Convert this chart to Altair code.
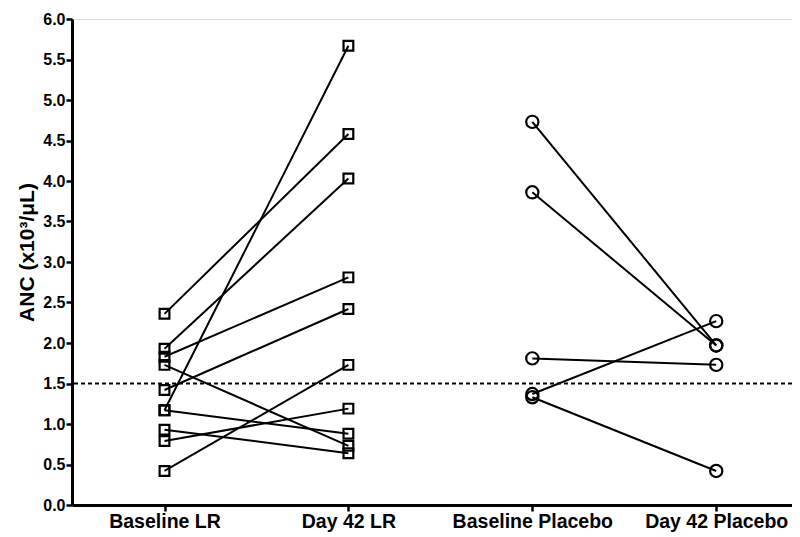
import altair as alt
import pandas as pd

timepoints = ["Baseline LR", "Day 42 LR", "Baseline Placebo", "Day 42 Placebo"]

lr_baseline = [2.36, 1.93, 1.83, 1.73, 1.42, 1.17, 1.17, 0.93, 0.79, 0.42]
lr_day42 = [4.58, 4.03, 2.81, 0.73, 2.42, 5.67, 0.88, 0.64, 1.19, 1.73]

pl_baseline = [4.73, 3.86, 1.81, 1.37, 1.33]
pl_day42 = [1.97, 1.97, 1.73, 2.27, 0.42]

threshold = 1.5

rows = []
for i, (a, b) in enumerate(zip(lr_baseline, lr_day42)):
    rows.append({"subject": f"LR{i}", "group": "LR", "time": timepoints[0], "anc": a})
    rows.append({"subject": f"LR{i}", "group": "LR", "time": timepoints[1], "anc": b})
for i, (a, b) in enumerate(zip(pl_baseline, pl_day42)):
    rows.append({"subject": f"PL{i}", "group": "Placebo", "time": timepoints[2], "anc": a})
    rows.append({"subject": f"PL{i}", "group": "Placebo", "time": timepoints[3], "anc": b})
df = pd.DataFrame(rows)

FONT = "Liberation Sans"

x_enc = alt.X(
    "time:N",
    sort=timepoints,
    scale=alt.Scale(type="point", domain=timepoints, padding=0.4575, align=0.5497),
    axis=alt.Axis(
        title=None,
        labelAngle=0,
        labelFont=FONT,
        labelFontSize=19.5,
        labelFontWeight="bold",
        labelColor="black",
        labelPadding=1,
        tickSize=6,
        tickWidth=2.5,
        tickColor="black",
        domainColor="black",
        domainWidth=3,
    ),
)
y_enc = alt.Y(
    "anc:Q",
    scale=alt.Scale(domain=[0, 6], nice=False, zero=True),
    axis=alt.Axis(
        title="ANC (x10³/μL)",
        titleFont=FONT,
        titleFontSize=21,
        titleFontWeight="bold",
        titleColor="black",
        titlePadding=5,
        titleY=233,
        values=[0, 0.5, 1, 1.5, 2, 2.5, 3, 3.5, 4, 4.5, 5, 5.5, 6],
        format=".1f",
        labelFont=FONT,
        labelFontSize=16,
        labelFontWeight="bold",
        labelColor="black",
        labelPadding=1,
        tickSize=6,
        tickWidth=2.5,
        tickColor="black",
        domainColor="black",
        domainWidth=3,
        grid=False,
    ),
)

base = alt.Chart(df)

lines = base.mark_line(color="black", strokeWidth=2).encode(
    x=x_enc, y=y_enc, detail="subject:N"
)

points = base.mark_point(filled=False, color="black", strokeWidth=2.2, opacity=1).encode(
    x=x_enc,
    y=y_enc,
    shape=alt.Shape(
        "group:N",
        scale=alt.Scale(domain=["LR", "Placebo"], range=["square", "circle"]),
        legend=None,
    ),
    size=alt.Size(
        "group:N",
        scale=alt.Scale(domain=["LR", "Placebo"], range=[95, 150]),
        legend=None,
    ),
)

rule = alt.Chart(pd.DataFrame({"t": [threshold]})).mark_rule(
    color="black", strokeWidth=2, strokeDash=[4, 3]
).encode(y="t:Q")

chart = alt.layer(rule, lines, points).properties(
    width=720,
    height=486,
    autosize=alt.AutoSizeParams(type="none"),
    padding={"left": 64, "top": 11, "right": 0, "bottom": 30},
).configure_view(stroke=None).configure(background="white")

chart.save("out.html", embed_options={"renderer": "svg", "actions": False})
